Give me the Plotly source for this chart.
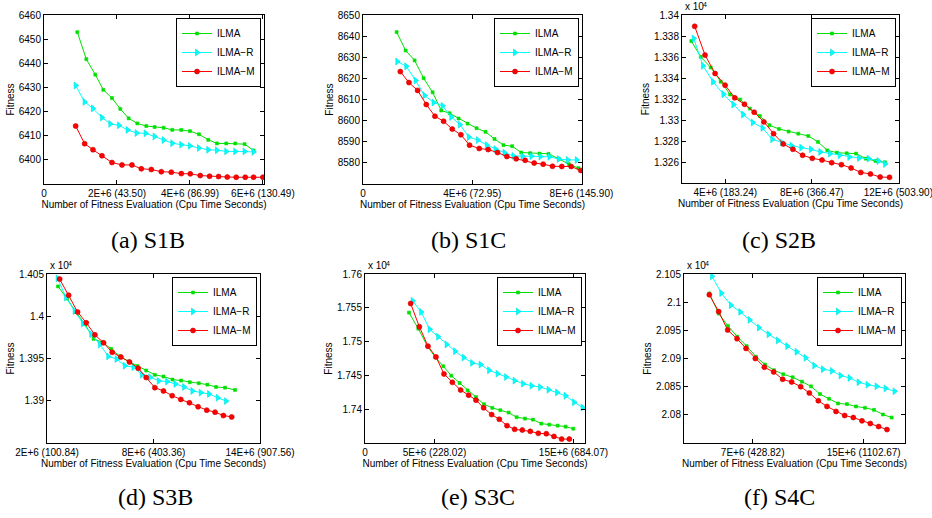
import plotly.graph_objects as go

W, H = 932, 518

series_names = ["ILMA", "ILMA−R", "ILMA−M"]

# ---------------- (a) S1B ----------------
a_x_ilma = [0.913, 1.160, 1.406, 1.626, 1.863, 2.091, 2.320, 2.557, 2.804, 3.032, 3.279, 3.516, 3.763, 4.000, 4.247, 4.502, 4.740, 4.995, 5.242, 5.498, 5.744]
a_y_ilma = [6452.9, 6441.7, 6435.3, 6429.0, 6425.6, 6421.1, 6417.2, 6415.1, 6414.0, 6413.6, 6413.3, 6412.4, 6412.4, 6411.9, 6410.6, 6408.3, 6406.8, 6406.8, 6406.8, 6406.5, 6403.9]
a_x_r = [0.868, 1.114, 1.342, 1.589, 1.817, 2.055, 2.292, 2.539, 2.785, 3.032, 3.279, 3.516, 3.763, 4.000, 4.247, 4.502, 4.740, 4.995, 5.242, 5.498, 5.744]
a_y_r = [6430.8, 6424.0, 6421.3, 6417.5, 6414.9, 6414.3, 6412.4, 6411.1, 6411.0, 6409.7, 6408.2, 6406.9, 6406.3, 6405.8, 6404.9, 6404.2, 6404.0, 6403.5, 6403.5, 6403.5, 6403.3]
a_x_m = [0.868, 1.114, 1.342, 1.589, 1.863, 2.137, 2.411, 2.667, 2.941, 3.215, 3.489, 3.763, 4.009, 4.283, 4.539, 4.785, 5.023, 5.269, 5.516, 5.744, 6.000]
a_y_m = [6414.0, 6406.7, 6404.2, 6401.7, 6398.9, 6397.9, 6397.9, 6396.3, 6396.0, 6395.1, 6394.9, 6394.3, 6394.2, 6393.5, 6393.2, 6393.1, 6392.9, 6392.8, 6392.8, 6392.8, 6392.8]
a_xticks = [0, 2, 4, 6]
a_xlabels = ["0", "2E+6 (43.50)", "4E+6 (86.99)", "6E+6 (130.49)"]
a_yticks = [6400, 6410, 6420, 6430, 6440, 6450, 6460]
a_ylabels = ["6400", "6410", "6420", "6430", "6440", "6450", "6460"]

# ---------------- (b) S1C ----------------
b_x_ilma = [1.232, 1.561, 1.890, 2.220, 2.549, 2.866, 3.171, 3.500, 3.829, 4.159, 4.488, 4.817, 5.146, 5.463, 5.793, 6.122, 6.463, 6.793, 7.171, 7.537, 7.890]
b_y_ilma = [8641.9, 8633.2, 8628.5, 8620.1, 8613.4, 8604.8, 8603.5, 8601.0, 8598.6, 8596.4, 8594.7, 8591.3, 8588.4, 8587.9, 8584.9, 8584.6, 8584.4, 8584.3, 8581.9, 8579.4, 8577.5]
b_x_r = [1.256, 1.585, 1.927, 2.256, 2.585, 2.915, 3.232, 3.549, 3.878, 4.207, 4.537, 4.854, 5.183, 5.512, 5.841, 6.171, 6.500, 6.829, 7.171, 7.500, 7.829]
b_y_r = [8628.0, 8625.7, 8619.0, 8611.9, 8608.6, 8607.0, 8601.7, 8598.1, 8592.2, 8590.8, 8588.4, 8586.5, 8584.8, 8583.3, 8583.2, 8583.2, 8583.0, 8582.9, 8581.8, 8581.4, 8581.4]
b_x_m = [1.366, 1.683, 2.000, 2.317, 2.634, 2.951, 3.268, 3.585, 3.902, 4.256, 4.585, 4.927, 5.268, 5.610, 5.939, 6.268, 6.598, 6.939, 7.280, 7.622, 7.976]
b_y_m = [8623.2, 8618.0, 8614.3, 8607.6, 8602.1, 8599.7, 8596.0, 8593.3, 8588.4, 8586.8, 8586.3, 8584.9, 8583.0, 8581.9, 8581.2, 8579.9, 8579.4, 8578.4, 8578.3, 8578.3, 8576.4]
b_xticks = [0, 4, 8]
b_xlabels = ["0", "4E+6 (72.95)", "8E+6 (145.90)"]
b_yticks = [8580, 8590, 8600, 8610, 8620, 8630, 8640, 8650]
b_ylabels = ["8580", "8590", "8600", "8610", "8620", "8630", "8640", "8650"]

# ---------------- (c) S2B (x 10^4) ----------------
c_x_ilma = [2.432, 2.865, 3.328, 3.788, 4.224, 4.687, 5.135, 5.598, 6.046, 6.479, 6.927, 7.375, 7.838, 8.286, 8.718, 9.166, 9.614, 10.046, 10.494, 10.942, 11.390]
c_y_ilma = [1.33752, 1.33602, 1.33500, 1.33364, 1.33243, 1.33195, 1.33109, 1.33039, 1.32950, 1.32915, 1.32890, 1.32870, 1.32848, 1.32791, 1.32711, 1.32689, 1.32683, 1.32680, 1.32632, 1.32610, 1.32597]
c_x_r = [2.541, 2.973, 3.436, 3.915, 4.378, 4.826, 5.274, 5.722, 6.170, 6.618, 7.066, 7.514, 7.961, 8.394, 8.842, 9.290, 9.737, 10.185, 10.633, 11.081, 11.390]
c_y_r = [1.33777, 1.33516, 1.33364, 1.33246, 1.33147, 1.33052, 1.32976, 1.32925, 1.32816, 1.32785, 1.32756, 1.32737, 1.32721, 1.32696, 1.32680, 1.32664, 1.32648, 1.32638, 1.32632, 1.32610, 1.32581]
c_x_m = [2.587, 3.066, 3.529, 3.992, 4.440, 4.888, 5.336, 5.784, 6.232, 6.680, 7.127, 7.575, 8.023, 8.471, 8.919, 9.367, 9.815, 10.263, 10.710, 11.158, 11.591]
c_y_m = [1.33892, 1.33618, 1.33443, 1.33332, 1.33211, 1.33150, 1.33074, 1.32982, 1.32870, 1.32772, 1.32721, 1.32664, 1.32635, 1.32619, 1.32594, 1.32575, 1.32543, 1.32501, 1.32486, 1.32457, 1.32454]
c_xticks = [4, 8, 12]
c_xlabels = ["4E+6 (183.24)", "8E+6 (366.47)", "12E+6 (503.90)"]
c_yticks = [1.326, 1.328, 1.330, 1.332, 1.334, 1.336, 1.338, 1.340]
c_ylabels = ["1.326", "1.328", "1.33", "1.332", "1.334", "1.336", "1.338", "1.34"]

# ---------------- (d) S3B (x 10^4) ----------------
d_x_ilma = [2.619, 3.125, 3.613, 4.138, 4.625, 5.131, 5.619, 6.106, 6.594, 7.100, 7.588, 8.075, 8.563, 9.069, 9.557, 10.044, 10.550, 11.038, 11.525, 12.031, 12.594]
d_y_ilma = [1.40353, 1.40210, 1.40054, 1.39907, 1.39732, 1.39692, 1.39613, 1.39525, 1.39466, 1.39410, 1.39358, 1.39307, 1.39287, 1.39251, 1.39239, 1.39219, 1.39207, 1.39191, 1.39163, 1.39155, 1.39128]
d_x_r = [2.600, 3.069, 3.556, 4.025, 4.494, 4.981, 5.450, 5.919, 6.388, 6.875, 7.344, 7.813, 8.300, 8.769, 9.238, 9.725, 10.194, 10.663, 11.131, 11.619, 12.088]
d_y_r = [1.40448, 1.40222, 1.40062, 1.39915, 1.39788, 1.39665, 1.39525, 1.39494, 1.39414, 1.39398, 1.39307, 1.39279, 1.39235, 1.39227, 1.39199, 1.39163, 1.39116, 1.39096, 1.39080, 1.39036, 1.38996]
d_x_m = [2.713, 3.219, 3.725, 4.213, 4.700, 5.188, 5.675, 6.163, 6.650, 7.138, 7.588, 8.075, 8.563, 9.050, 9.538, 10.025, 10.513, 11.000, 11.469, 11.938, 12.406]
d_y_m = [1.40440, 1.40249, 1.40050, 1.39923, 1.39780, 1.39685, 1.39573, 1.39517, 1.39458, 1.39386, 1.39275, 1.39155, 1.39116, 1.39060, 1.39016, 1.38976, 1.38929, 1.38889, 1.38865, 1.38825, 1.38809]
d_xticks = [2, 8, 14]
d_xlabels = ["2E+6 (100.84)", "8E+6 (403.36)", "14E+6 (907.56)"]
d_yticks = [1.390, 1.395, 1.400, 1.405]
d_ylabels = ["1.39", "1.395", "1.4", "1.405"]

# ---------------- (e) S3C (x 10^4) ----------------
e_x_ilma = [3.165, 3.837, 4.484, 5.060, 5.635, 6.211, 6.811, 7.386, 7.986, 8.561, 9.161, 9.736, 10.336, 10.911, 11.511, 12.086, 12.686, 13.261, 13.861, 14.436, 14.988]
e_y_ilma = [1.75429, 1.75191, 1.74933, 1.74769, 1.74635, 1.74496, 1.74387, 1.74278, 1.74179, 1.74074, 1.74020, 1.73985, 1.73950, 1.73881, 1.73861, 1.73846, 1.73787, 1.73772, 1.73757, 1.73742, 1.73712]
e_x_r = [3.429, 4.041, 4.652, 5.264, 5.875, 6.487, 7.098, 7.710, 8.321, 8.933, 9.544, 10.156, 10.767, 11.379, 11.990, 12.602, 13.213, 13.825, 14.436, 15.048, 15.659]
e_y_r = [1.75603, 1.75439, 1.75181, 1.75072, 1.74958, 1.74858, 1.74764, 1.74685, 1.74660, 1.74576, 1.74526, 1.74476, 1.74422, 1.74377, 1.74347, 1.74327, 1.74288, 1.74248, 1.74198, 1.74104, 1.74025]
e_x_m = [3.285, 3.909, 4.532, 5.108, 5.683, 6.283, 6.882, 7.458, 7.986, 8.537, 9.113, 9.664, 10.216, 10.767, 11.319, 11.894, 12.470, 13.046, 13.597, 14.149, 14.700]
e_y_m = [1.75563, 1.75221, 1.74933, 1.74774, 1.74521, 1.74397, 1.74283, 1.74208, 1.74134, 1.74020, 1.73920, 1.73851, 1.73757, 1.73702, 1.73692, 1.73672, 1.73643, 1.73638, 1.73598, 1.73558, 1.73558]
e_xticks = [0, 5, 15]
e_xlabels = ["0", "5E+6 (228.02)", "15E+6 (684.07)"]
e_yticks = [1.740, 1.745, 1.750, 1.755, 1.760]
e_ylabels = ["1.74", "1.745", "1.75", "1.755", "1.76"]

# ---------------- (f) S4C (x 10^4) ----------------
f_x_ilma = [3.876, 4.549, 5.221, 5.894, 6.567, 7.240, 7.888, 8.537, 9.209, 9.882, 10.555, 11.204, 11.852, 12.501, 13.150, 13.798, 14.447, 15.095, 15.744, 16.393, 17.017]
f_y_ilma = [2.10155, 2.09798, 2.09577, 2.09387, 2.09220, 2.09030, 2.08893, 2.08792, 2.08720, 2.08667, 2.08589, 2.08506, 2.08369, 2.08286, 2.08202, 2.08190, 2.08149, 2.08125, 2.08089, 2.08006, 2.07952]
f_x_r = [4.068, 4.741, 5.437, 6.110, 6.783, 7.455, 8.152, 8.825, 9.498, 10.170, 10.819, 11.444, 12.068, 12.717, 13.341, 13.990, 14.639, 15.288, 15.936, 16.585, 17.233]
f_y_r = [2.10458, 2.10161, 2.09946, 2.09827, 2.09685, 2.09548, 2.09429, 2.09321, 2.09220, 2.09119, 2.09012, 2.08875, 2.08810, 2.08780, 2.08697, 2.08655, 2.08577, 2.08536, 2.08506, 2.08470, 2.08417]
f_x_m = [3.876, 4.549, 5.197, 5.870, 6.519, 7.191, 7.840, 8.513, 9.161, 9.810, 10.459, 11.083, 11.732, 12.357, 13.005, 13.630, 14.254, 14.879, 15.480, 16.080, 16.681]
f_y_m = [2.10131, 2.09833, 2.09506, 2.09351, 2.09179, 2.09000, 2.08845, 2.08762, 2.08631, 2.08583, 2.08500, 2.08387, 2.08250, 2.08149, 2.08060, 2.07988, 2.07952, 2.07893, 2.07845, 2.07792, 2.07738]
f_xticks = [7, 15]
f_xlabels = ["7E+6 (428.82)", "15E+6 (1102.67)"]
f_yticks = [2.080, 2.085, 2.090, 2.095, 2.100, 2.105]
f_ylabels = ["2.08", "2.085", "2.09", "2.095", "2.1", "2.105"]

captions = ["(a) S1B", "(b) S1C", "(c) S2B", "(d) S3B", "(e) S3C", "(f) S4C"]

panels = [
    dict(data=[(a_x_ilma, a_y_ilma), (a_x_r, a_y_r), (a_x_m, a_y_m)], xr=[0, 6.03], yr=[6390, 6460],
         xt=a_xticks, xl=a_xlabels, yt=a_yticks, yl=a_ylabels, box=(44, 264, 15, 184), exp=False, cap=(148, 240)),
    dict(data=[(b_x_ilma, b_y_ilma), (b_x_r, b_y_r), (b_x_m, b_y_m)], xr=[0, 8.02], yr=[8570, 8650],
         xt=b_xticks, xl=b_xlabels, yt=b_yticks, yl=b_ylabels, box=(363, 582, 15, 184), exp=False, cap=(468, 240)),
    dict(data=[(c_x_ilma, c_y_ilma), (c_x_r, c_y_r), (c_x_m, c_y_m)], xr=[2, 12.03], yr=[1.324, 1.340],
         xt=c_xticks, xl=c_xlabels, yt=c_yticks, yl=c_ylabels, box=(682, 899, 15, 183), exp=True, cap=(779, 240)),
    dict(data=[(d_x_ilma, d_y_ilma), (d_x_r, d_y_r), (d_x_m, d_y_m)], xr=[2, 14], yr=[1.385, 1.405],
         xt=d_xticks, xl=d_xlabels, yt=d_yticks, yl=d_ylabels, box=(47, 260, 274, 443), exp=True, cap=(155, 497)),
    dict(data=[(e_x_ilma, e_y_ilma), (e_x_r, e_y_r), (e_x_m, e_y_m)], xr=[0, 15.83], yr=[1.735, 1.760],
         xt=e_xticks, xl=e_xlabels, yt=e_yticks, yl=e_ylabels, box=(365, 585, 274, 443), exp=True, cap=(478, 497)),
    dict(data=[(f_x_ilma, f_y_ilma), (f_x_r, f_y_r), (f_x_m, f_y_m)], xr=[2.05, 17.98], yr=[2.075, 2.105],
         xt=f_xticks, xl=f_xlabels, yt=f_yticks, yl=f_ylabels, box=(684, 905, 274, 443), exp=True, cap=(779, 497)),
]

styles = [
    dict(color="#00e000", symbol="square", size=3, lcolor="#00e000"),
    dict(color="#00ffff", symbol="triangle-right", size=6, lcolor="#00dddd"),
    dict(color="#ff0000", symbol="circle", size=5, lcolor="#cc0000"),
]

font_sans = "Liberation Sans, Arial, sans-serif"
fig = go.Figure()
layout = dict(width=W, height=H, margin=dict(l=0, r=0, t=0, b=0, autoexpand=False),
              paper_bgcolor="white", plot_bgcolor="white", showlegend=True,
              font=dict(family=font_sans, size=10, color="black"))
annotations = []

for i, p in enumerate(panels):
    n = i + 1
    sfx = "" if n == 1 else str(n)
    lg = "legend" if n == 1 else f"legend{n}"
    l, r, t, b = p["box"]
    for (xs, ys), name, st in zip(p["data"], series_names, styles):
        fig.add_trace(go.Scatter(
            x=xs, y=ys, name=name, mode="lines+markers",
            line=dict(color=st["color"], width=1),
            marker=dict(symbol=st["symbol"], size=st["size"], color=st["color"],
                        line=dict(color=st["lcolor"], width=0.6)),
            xaxis="x" + sfx, yaxis="y" + sfx, legend=lg))
    axcommon = dict(showline=True, linecolor="black", linewidth=1, mirror="ticks",
                    ticks="inside", ticklen=4, tickwidth=1, tickcolor="black", automargin=False,
                    showgrid=False, zeroline=False, ticklabeloverflow="allow")
    layout["xaxis" + sfx] = dict(axcommon, domain=[l / W, r / W], range=p["xr"], anchor="y" + sfx,
                                 tickmode="array", tickvals=p["xt"], ticktext=p["xl"],
                                 tickfont=dict(size=10, family=font_sans),
                                 title=dict(text="Number of Fitness Evaluation (Cpu Time Seconds)",
                                            font=dict(size=10), standoff=1))
    layout["yaxis" + sfx] = dict(axcommon, domain=[1 - b / H, 1 - t / H], range=p["yr"], anchor="x" + sfx,
                                 tickmode="array", tickvals=p["yt"], ticktext=p["yl"],
                                 tickfont=dict(size=10, family=font_sans),
                                 title=dict(text="Fitness", font=dict(size=10), standoff=2))
    layout[lg] = dict(x=(r - 3) / W, xanchor="right", y=1 - (t + 3) / H, yanchor="top",
                      bordercolor="black", borderwidth=1, bgcolor="white",
                      font=dict(size=10, family=font_sans), itemwidth=30, tracegroupgap=0)
    if p["exp"]:
        annotations.append(dict(text="x 10", xref="paper", yref="paper",
                                x=(l + 1) / W, y=1 - (t - 1) / H, xanchor="left", yanchor="bottom",
                                showarrow=False, font=dict(size=10, family=font_sans)))
        annotations.append(dict(text="4", xref="paper", yref="paper",
                                x=(l + 19) / W, y=1 - (t - 5) / H, xanchor="left", yanchor="bottom",
                                showarrow=False, font=dict(size=7, family=font_sans)))
    cx, cy = p["cap"]
    annotations.append(dict(text=captions[i], xref="paper", yref="paper", x=cx / W, y=1 - cy / H,
                            xanchor="center", yanchor="middle", showarrow=False,
                            font=dict(size=24, family="Liberation Serif, Times New Roman, serif")))

layout["annotations"] = annotations
fig.update_layout(**layout)
fig.write_html("out.html", config={"displayModeBar": False},
               post_script="document.body.style.margin='0px';document.body.style.overflow='hidden';")
